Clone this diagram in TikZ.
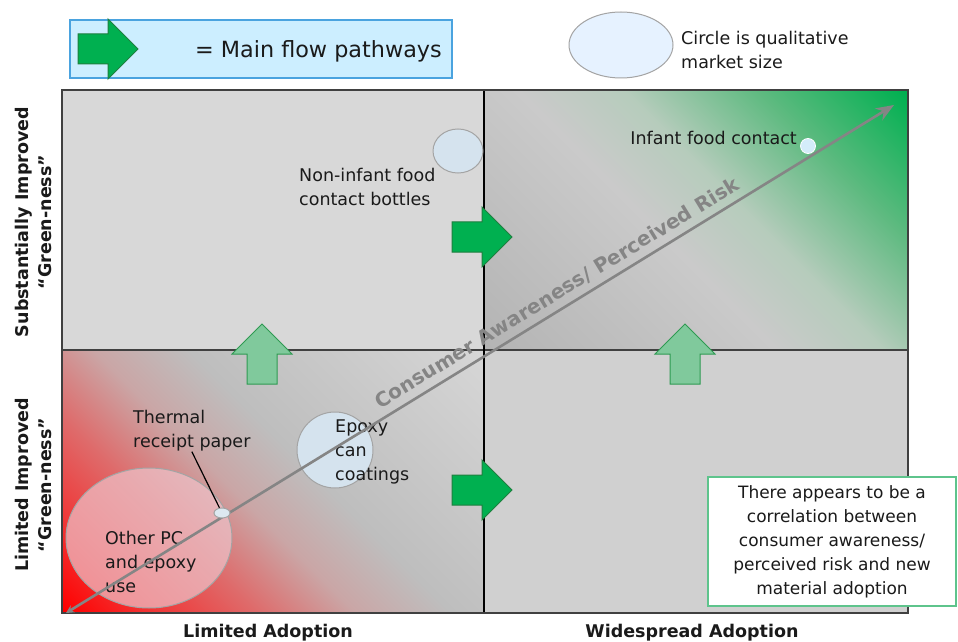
\documentclass[tikz,border=0pt]{standalone}
\usepackage{fontspec}
\setmainfont{DejaVu Sans}
\usetikzlibrary{arrows.meta,shapes.geometric}

\definecolor{flowgreen}{HTML}{00B050}
\definecolor{flowedge}{HTML}{1F7F3F}
\definecolor{upfill}{HTML}{80C99C}
\definecolor{upedge}{HTML}{2E9A52}
\definecolor{legendfill}{HTML}{CCEEFF}
\definecolor{legendedge}{HTML}{4AA3DF}
\definecolor{quadTL}{HTML}{D8D8D8}
\definecolor{quadBR}{HTML}{D0D0D0}
\definecolor{gridline}{HTML}{404040}
\definecolor{bubblefill}{HTML}{D5E3EE}
\definecolor{bubbleedge}{HTML}{A4A4A4}
\definecolor{keyfill}{HTML}{E6F2FF}
\definecolor{dotfill}{HTML}{D4ECFA}
\definecolor{pinkbubble}{HTML}{EEC4CB}
\definecolor{noteedge}{HTML}{5EC48C}
\definecolor{riskgray}{HTML}{858585}
\definecolor{textdark}{HTML}{1A1A1A}
% stops for the two graded quadrants
\definecolor{trA}{HTML}{B4B4B4}
\definecolor{trB}{HTML}{CACACA}
\definecolor{trC}{HTML}{B6CCBC}
\definecolor{trD}{HTML}{5EBA80}
\definecolor{blA}{HTML}{D6D6D6}
\definecolor{blB}{HTML}{BEBEBE}
\definecolor{blC}{HTML}{CAA6A6}
\definecolor{blD}{HTML}{DE6C6C}
\definecolor{blE}{HTML}{F23030}
\definecolor{blF}{HTML}{FF0000}

\pgfdeclareverticalshading{greenquad}{100bp}{color(0bp)=(trA); color(15bp)=(trA); color(45bp)=(trB); color(56bp)=(trC); color(70bp)=(trD); color(85bp)=(flowgreen); color(100bp)=(flowgreen)}
\pgfdeclareverticalshading{redquad}{100bp}{color(0bp)=(blA); color(15bp)=(blA); color(45bp)=(blB); color(55bp)=(blC); color(65bp)=(blD); color(77bp)=(blE); color(85bp)=(blF); color(100bp)=(blF)}

\tikzset{
  pics/flowarrow/.style={code={
    \path[pic actions] (0,-15) -- (30,-15) -- (30,-30) -- (60,0) -- (30,30) -- (30,15) -- (0,15) -- cycle;}},
  mainflow/.style={fill=flowgreen, draw=flowedge, line width=1},
  upflow/.style={fill=upfill, draw=upedge, line width=1},
  bubble/.style={ellipse, draw=bubbleedge, line width=1, fill=bubblefill, inner sep=0},
  lbl/.style={align=left, inner sep=0, text=textdark, font=\fontsize{17.5}{24}\selectfont},
  axislbl/.style={align=center, inner sep=0, text=textdark, font=\bfseries\fontsize{17.5}{23}\selectfont},
  risktxt/.style={rotate=31.5, inner sep=0, font=\bfseries\fontsize{20}{20}\selectfont},
  riskline/.style={draw=riskgray, line width=2.6, {Stealth[length=8pt,width=8pt]}-{Stealth[length=18pt,width=14pt]}},
  notebox/.style={draw=noteedge, line width=1.3, fill=white, minimum width=248, minimum height=129, align=center, inner sep=0, text=textdark, font=\fontsize{17}{24}\selectfont},
  legendbox/.style={draw=legendedge, line width=1.2, fill=legendfill, minimum width=382, minimum height=58, inner sep=0}
}

\begin{document}
\begin{tikzpicture}[x=1pt,y=1pt]
\useasboundingbox (0,0) rectangle (958,641);
\fill[white] (0,0) rectangle (958,641);

% legend
\node[legendbox] (legend) at (261,592) {};
\pic[mainflow] at (78,592) {flowarrow};
\node[anchor=base west, inner sep=0, text=textdark, font=\fontsize{22.3}{27}\selectfont] (legendtxt) at (195,583) {= Main flow pathways};
\node[bubble, fill=keyfill, minimum width=104, minimum height=66] (sizekey) at (621,596) {};
\node[lbl, anchor=west] (sizetxt) at (681,591) {Circle is qualitative\\market size};

% quadrants
\fill[quadTL] (62,291) rectangle (484,551);
\shade[shading=greenquad, shading angle=-45] (484,291) rectangle (908,551);
\shade[shading=redquad, shading angle=135] (62,28) rectangle (484,291);
\fill[quadBR] (484,28) rectangle (908,291);
\draw[gridline, line width=1.8] (62,291) -- (908,291);
\draw[black, line width=1.2] (484,28) -- (484,551);
\draw[gridline, line width=2] (62,28) rectangle (908,551);

% flow arrows
\pic[mainflow] at (452,404) {flowarrow};
\pic[mainflow] at (452,151) {flowarrow};
\pic[upflow, rotate=90] at (262,257) {flowarrow};
\pic[upflow, rotate=90] at (685,257) {flowarrow};

% market bubbles
\node[bubble, minimum width=50, minimum height=44] (bottles) at (458,490) {};
\node[bubble, minimum width=76, minimum height=76] (epoxy) at (335,191) {};
\node[bubble, fill=pinkbubble, fill opacity=0.7, minimum width=166, minimum height=140] (otherpc) at (149,103) {};

% bubble labels
\node[lbl, anchor=west] (bottlestxt) at (299,454) {Non-infant food\\contact bottles};
\node[lbl, anchor=west] (epoxytxt) at (335,189) {Epoxy\\can\\coatings};
\node[lbl, anchor=west] (otherpctxt) at (105,79) {Other PC\\and epoxy\\use};
\node[lbl, anchor=west] (thermaltxt) at (133,210) {Thermal\\receipt paper};
\node[lbl, anchor=east] (infanttxt) at (797,503) {Infant food contact};

% awareness / risk axis
\coordinate (riskstart) at (66,28);
\coordinate (riskend) at (894,536);
\node[risktxt, text=riskgray] (risklabel) at (557,348) {Consumer Awareness/ Perceived Risk};
\draw[riskline] (riskstart) -- (riskend);

% small bubbles on the axis
\node[bubble, fill=bubblefill!80!white, minimum width=16, minimum height=10] (thermaldot) at (222,128) {};
\draw[black, line width=1.2] (thermaltxt.south) -- (thermaldot);
\node[circle, fill=dotfill, draw=white, line width=0.8, minimum size=15, inner sep=0] (infantdot) at (808,495) {};

% note
\node[notebox] (note) at (832,99.5) {There appears to be a\\correlation between\\consumer awareness/\\perceived risk and new\\material adoption};

% axis titles
\node[axislbl, rotate=90] (ytop) at (33,419) {Substantially Improved\\“Green-ness”};
\node[axislbl, rotate=90] (ybottom) at (33,156) {Limited Improved\\“Green-ness”};
\node[axislbl, anchor=base] (xleft) at (268,4) {Limited Adoption};
\node[axislbl, anchor=base] (xright) at (692,4) {Widespread Adoption};
\end{tikzpicture}
\end{document}
